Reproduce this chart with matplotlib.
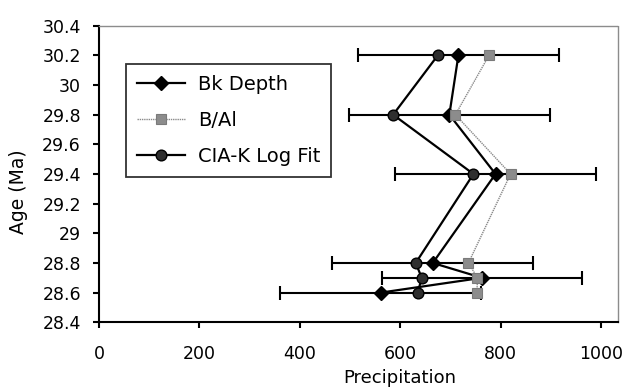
import matplotlib
matplotlib.use("Agg")
import matplotlib.pyplot as plt

ages = [30.2, 29.8, 29.4, 28.8, 28.7, 28.6]
bk_depth = [716, 698, 790, 665, 763, 561]
b_al = [777, 710, 820, 736, 754, 753]
cia_k = [675, 586, 746, 631, 643, 635]
bk_err = [200, 200, 200, 200, 200, 200]

x_ticks = [0, 200, 400, 600, 800, 1000]
y_ticks = [28.4, 28.6, 28.8, 29.0, 29.2, 29.4, 29.6, 29.8, 30.0, 30.2, 30.4]
y_labels = ["28.4", "28.6", "28.8", "29", "29.2", "29.4", "29.6", "29.8", "30", "30.2", "30.4"]

plt.rcParams['font.family'] = ['DejaVu Sans']

fig = plt.figure(figsize=(6.28, 3.89), dpi=100)
ax = fig.add_axes([99/628, 1-322.3/389, (617.5-99)/628, (322.3-25.7)/389])

ax.errorbar(bk_depth, ages, xerr=bk_err, fmt='none', ecolor='black',
            elinewidth=1.5, capsize=4.7, capthick=1.5, zorder=2)
ax.plot(bk_depth, ages, color='black', lw=1.6, marker='D', ms=6.8,
        mfc='black', mec='black', label='Bk Depth', zorder=3)
ax.plot(b_al, ages, color='#8a8a8a', lw=1.0, ls=(0, (1, 0.6)), marker='s', ms=7.8,
        mfc='#8c8c8c', mec='#7a7a7a', mew=0.8, label='B/Al', zorder=4)
ax.plot(cia_k, ages, color='black', lw=1.6, marker='o', ms=7.7,
        mfc='#2e2e2e', mec='black', mew=1.0, label='CIA-K Log Fit', zorder=5)

ax.set_xlim(0, 1033)
ax.set_ylim(28.4, 30.4)
ax.set_xticks(x_ticks)
ax.set_xticklabels([str(v) for v in x_ticks])
ax.set_yticks(y_ticks)
ax.set_yticklabels(y_labels)

ax.tick_params(axis='both', direction='out', length=4, width=1.5, labelsize=12.5,
               colors='black')
ax.tick_params(axis='x', pad=12)
ax.tick_params(axis='y', pad=9)

for s in ['left', 'bottom']:
    ax.spines[s].set_color('black')
    ax.spines[s].set_linewidth(1.5)
for s in ['top', 'right']:
    ax.spines[s].set_color('#8c8c8c')
    ax.spines[s].set_linewidth(1.0)
    ax.spines[s].set_linestyle((0, (1, 1)))

ax.set_xlabel('Precipitation', fontsize=13)
ax.set_ylabel('Age (Ma)', fontsize=13.5)
ax.xaxis.set_label_coords((400 - 99) / 518.5, -(369 - 322.3) / 296.6)
ax.yaxis.set_label_coords((28.5 - 99) / 518.5, (322.3 - 192) / 296.6)

leg = ax.legend(loc='upper left', bbox_to_anchor=((126 - 99) / 518.5, (322.3 - 64.3) / 296.6),
                borderaxespad=0, fontsize=14, frameon=True, fancybox=False,
                handlelength=2.5, handletextpad=0.65, labelspacing=0.88,
                borderpad=0.55)
leg.get_frame().set_edgecolor('black')
leg.get_frame().set_linewidth(1.3)

fig.savefig('out.png', dpi=100)
